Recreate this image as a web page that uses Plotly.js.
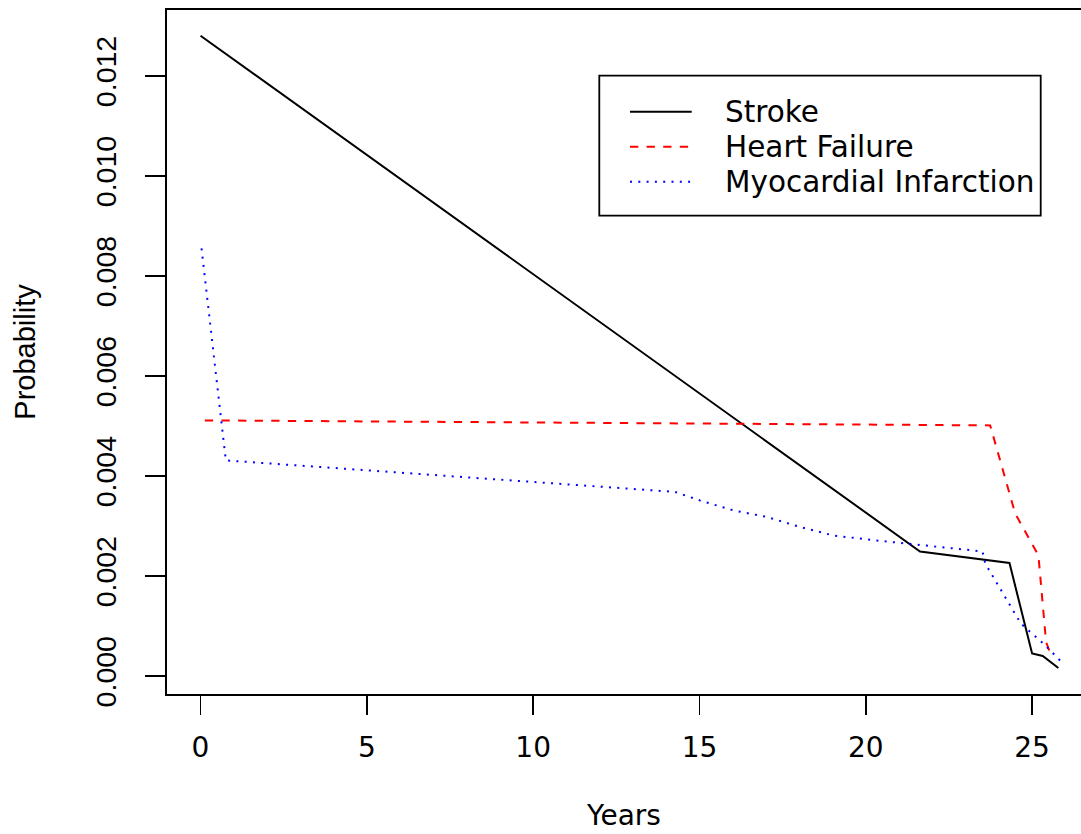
<!DOCTYPE html>
<html><head><meta charset="utf-8">
<script src="https://cdn.plot.ly/plotly-3.0.1.min.js"></script>
<style>html,body{margin:0;padding:0;background:#fff;} #chart{width:1081px;height:834px;}</style>
</head><body><div id="chart"></div>
<script>
// ---- data ----
const seriesNames = ['Stroke', 'Heart Failure', 'Myocardial Infarction'];
const strokeYears = [0, 21.63, 24.32, 25.0, 25.32, 25.79];
const strokeProb  = [0.0128, 0.00249, 0.00226, 0.00045, 0.00040, 0.00016];
const hfYears = [0.13, 23.74, 24.49, 25.19, 25.42, 25.59];
const hfProb  = [0.00511, 0.00501, 0.00325, 0.00241, 0.00068, 0.00038];
const miYears = [0.03, 0.76, 14.26, 15.01, 16.02, 17.02, 18.02, 19.02, 20.03, 23.51, 23.59, 24.66, 25.37, 25.84];
const miProb  = [0.00855, 0.00431, 0.00368, 0.00351, 0.00331, 0.00318, 0.00298, 0.00281, 0.00273, 0.00249, 0.00225, 0.00105, 0.00063, 0.00031];
const xTickVals = [0, 5, 10, 15, 20, 25];
const yTickVals = [0, 0.002, 0.004, 0.006, 0.008, 0.010, 0.012];
const xTitle = 'Years';
const yTitle = 'Probability';

// ---- styling ----
const H = 'DejaVu Sans, Liberation Sans, Arial, sans-serif';
const V = 'Liberation Sans, Arial, sans-serif';
const colors = ['#000000', '#FF0000', '#0000FF'];
const dashes = ['solid', '8.3px,8.3px', '2px,6.3px'];
const W = 1081, HT = 834;
const M = {l: 167, r: 0, t: 10, b: 140};
const plotW = W - M.l - M.r, plotH = HT - M.t - M.b;
const px2x = p => (p - M.l) / plotW;          // pixel -> paper x
const px2y = p => (HT - M.b - p) / plotH;     // pixel -> paper y

const seriesX = [strokeYears, hfYears, miYears];
const seriesY = [strokeProb, hfProb, miProb];
const traces = seriesNames.map((n, i) => ({
  x: seriesX[i], y: seriesY[i], name: n, type: 'scatter', mode: 'lines',
  line: {color: colors[i], width: 2, dash: dashes[i]}, showlegend: false
}));

// ---- legend box (R-style), drawn in paper coordinates ----
const LG = {left: 599.3, right: 1040.7, top: 75.7, bottom: 215.7,
            sampleL: 630, sampleR: 691.7, textL: 723.3, rowTop: 111.7, rowGap: 35};
const shapes = [{type: 'rect', xref: 'paper', yref: 'paper',
  x0: px2x(LG.left), x1: px2x(LG.right), y0: px2y(LG.bottom), y1: px2y(LG.top),
  line: {color: '#000000', width: 1.8}, fillcolor: 'rgba(0,0,0,0)', layer: 'above'}];
const annotations = [];
seriesNames.forEach((n, i) => {
  const yy = px2y(LG.rowTop + i * LG.rowGap);
  shapes.push({type: 'line', xref: 'paper', yref: 'paper',
    x0: px2x(LG.sampleL), x1: px2x(LG.sampleR), y0: yy, y1: yy,
    line: {color: colors[i], width: 2, dash: dashes[i]}, layer: 'above'});
  annotations.push({xref: 'paper', yref: 'paper', x: px2x(LG.textL), y: yy,
    xanchor: 'left', yanchor: 'middle', text: n, showarrow: false,
    font: {family: H, size: 29.5, color: '#000000'}});
});

const layout = {
  width: W, height: HT,
  margin: {l: M.l, r: M.r, t: M.t, b: M.b, pad: 0},
  paper_bgcolor: '#ffffff', plot_bgcolor: '#ffffff',
  showlegend: false,
  shapes: shapes, annotations: annotations,
  xaxis: {
    range: [-1.008, 26.47], tickmode: 'array', tickvals: xTickVals,
    ticktext: xTickVals.map(String),
    ticks: 'outside', ticklen: 19, tickwidth: 1.8, tickcolor: '#000000',
    showline: true, linewidth: 1.8, linecolor: '#000000', mirror: true,
    showgrid: false, zeroline: false, automargin: false,
    tickfont: {family: H, size: 28, color: '#000000'},
    ticklabelstandoff: 9,
    title: {text: xTitle, font: {family: H, size: 28, color: '#000000'}, standoff: 42}
  },
  yaxis: {
    range: [-0.00036, 0.013314], tickmode: 'array', tickvals: yTickVals,
    ticktext: yTickVals.map(v => v.toFixed(3)),
    ticks: 'outside', ticklen: 20, tickwidth: 1.8, tickcolor: '#000000',
    showline: true, linewidth: 1.8, linecolor: '#000000', mirror: false,
    showgrid: false, zeroline: false, automargin: false,
    tickangle: -90,
    tickfont: {family: V, size: 28.5, color: '#000000'},
    ticklabelstandoff: 18,
    title: {text: yTitle, font: {family: V, size: 29, color: '#000000'}, standoff: 46}
  }
};

Plotly.newPlot('chart', traces, layout, {displayModeBar: false, staticPlot: true});
</script>
</body></html>
